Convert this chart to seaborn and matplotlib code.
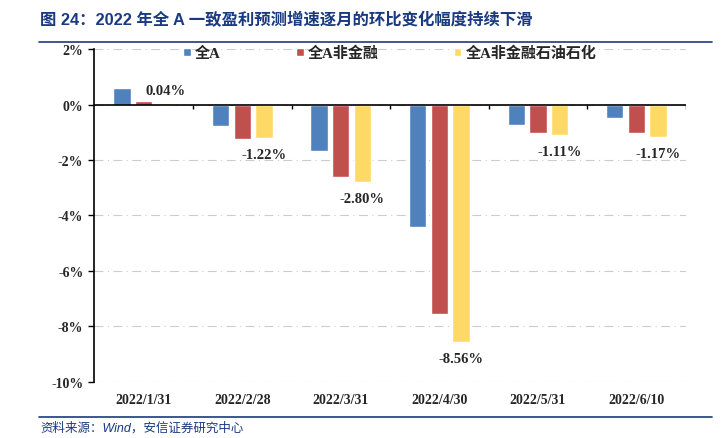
import pandas as pd
import matplotlib.pyplot as plt
import seaborn as sns

# chart data
dates = ['2022/1/31', '2022/2/28', '2022/3/31', '2022/4/30', '2022/5/31', '2022/6/10']
series_names = ['全A', '全A非金融', '全A非金融石油石化']
all_a = [0.61, -0.79, -1.66, -4.43, -0.74, -0.48]
non_fin = [0.12, -1.26, -2.60, -7.57, -1.02, -1.01]
non_fin_oil = [0.04, -1.22, -2.80, -8.56, -1.11, -1.17]
yticks = [2, 0, -2, -4, -6, -8, -10]

df = pd.DataFrame({
    'date': dates * 3,
    'series': [s for s in series_names for _ in dates],
    'value': all_a + non_fin + non_fin_oil,
})

sns.set_style('white')
plt.rcParams['font.family'] = ['Liberation Serif', 'Noto Sans CJK SC']

palette = {'全A': '#4F81BD', '全A非金融': '#C0504D', '全A非金融石油石化': '#FFD966'}

fig = plt.figure(figsize=(7.21, 4.39), dpi=100)
ax = fig.add_axes([0.131, 0.128, 0.82, 0.758])

sns.barplot(data=df, x='date', y='value', hue='series', palette=palette,
            width=0.66, gap=0.2, saturation=1, ax=ax, zorder=3)

ax.set_ylim(-10, 2)
ax.set_xlim(-0.5, 5.5)
ax.set_yticks(yticks)
ax.set_yticklabels([f'{v}%' for v in yticks], fontsize=10, fontweight='bold')
ax.yaxis.grid(True, color='#CCCCCC', linestyle=(0, (8, 4, 1, 4)), linewidth=0.8)
ax.set_axisbelow(True)
ax.tick_params(axis='y', direction='out', length=4, width=1, color='black', left=True, pad=4)
ax.tick_params(axis='x', length=0, pad=8)
for lbl in ax.get_xticklabels():
    lbl.set_fontsize(10)
    lbl.set_fontweight('bold')
ax.set_xlabel('')
ax.set_ylabel('')
for side in ['top', 'right', 'bottom']:
    ax.spines[side].set_visible(False)
ax.spines['left'].set_color('black')
ax.spines['left'].set_linewidth(1.2)

# zero line with category separators
ax.axhline(0, color='black', linewidth=1.2, zorder=4)
ax.vlines([i + 0.5 for i in range(len(dates))], -0.15, 0, color='black', linewidth=1, zorder=4)

# labels for the last series
for i, v in enumerate(non_fin_oil):
    off = 0.45 if v >= 0 else -0.6
    ax.text(i + 0.22, v + off, f'{v:.2f}%', ha='center', va='center',
            fontsize=10.5, fontweight='bold', zorder=5)

ax.legend(loc='upper center', bbox_to_anchor=(0.5, 1.05), ncol=3, frameon=False,
          prop={'size': 10.8, 'weight': 'bold'}, handlelength=0.5, handleheight=0.5,
          handletextpad=0.3, columnspacing=5)

# title, rules and source
fig.text(0.056, 0.955, '图 24：2022 年全 A 一致盈利预测增速逐月的环比变化幅度持续下滑',
         fontsize=11.8, fontweight='bold', color='#1A3A80', va='center',
         family=['Liberation Sans', 'Noto Sans CJK SC'])
fig.add_artist(plt.Line2D([0.054, 0.988], [0.902, 0.902], color='#1A3A80', linewidth=1.2))
fig.add_artist(plt.Line2D([0.054, 0.988], [0.048, 0.048], color='#1A3A80', linewidth=1.2))
fig.text(0.056, 0.024, '资料来源：Wind，安信证券研究中心', fontsize=9, style='italic',
         color='#1A3A80', va='center', family=['Liberation Sans', 'Noto Sans CJK SC'])

fig.savefig('out.png', dpi=100)
